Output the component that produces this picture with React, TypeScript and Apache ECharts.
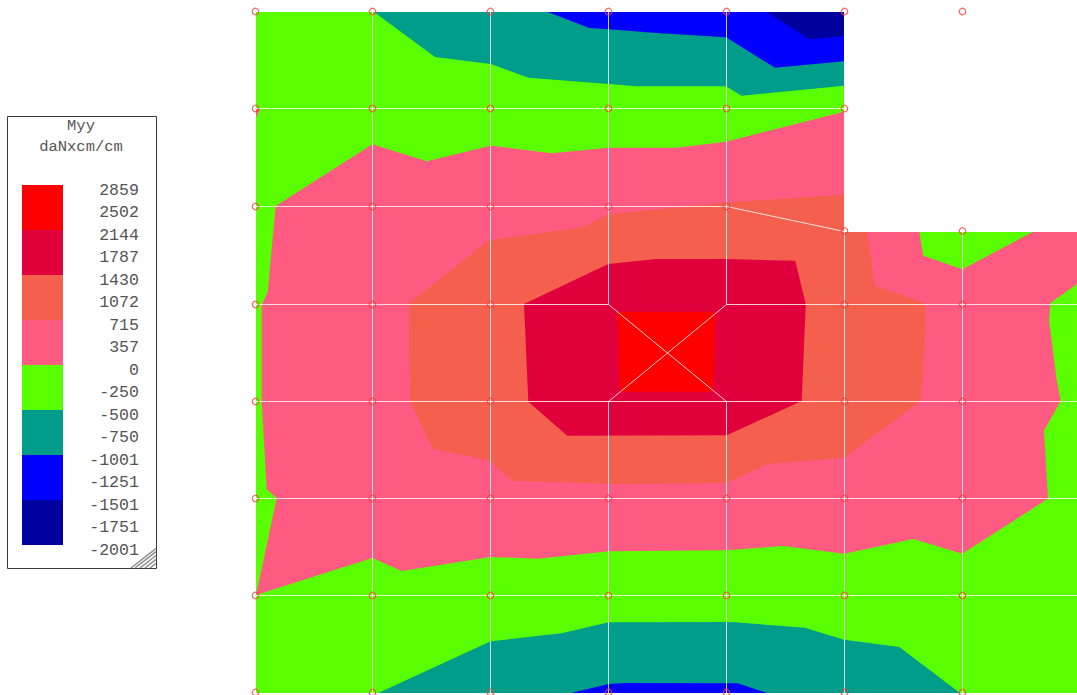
import React, { useEffect, useRef } from "react";
import * as echarts from "echarts";

type P = [number, number];

// contour bands, painted from the lowest layer upward
const greenBase: P[] = [[256,12],[844,12],[844,232],[1077,232],[1077,693],[256,693]];
const tealTop: P[] = [[374,12],[435,57],[490.7,64],[528.3,77.7],[608.7,84],[636.7,86.3],[726,86.3],[741.7,95.7],[844,85.7],[844,12]];
const blueTop: P[] = [[547.7,12],[589.3,28],[608.7,29.3],[660,33.3],[726,37.3],[775,67.7],[844,61.3],[844,12]];
const navyTop: P[] = [[766.7,12],[809.3,39.3],[844,36],[844,12]];
const tealBottom: P[] = [[378.3,693],[490.7,641.3],[561.7,633.3],[608.7,622.3],[726,622],[735,622.3],[805,627.7],[844,639.7],[899.3,647],[960,693]];
const blueBottom: P[] = [[571,693],[608.7,684],[625,683],[737.3,683.3],[767.3,693]];
const pinkSpeck: P[] = [[256,109],[260,109],[256,118]];
const pinkBand: P[] = [[275.7,206],[372.3,144.3],[426.7,161.3],[490.7,145.7],[551.7,153.3],[608.7,147.7],[676.7,147.7],[726,141.7],[844,111.7],[844,232],[919.3,232],[923.3,255.7],[962.3,269.3],[1032.7,232],[1077,232],[1077,284],[1050.7,302.7],[1049,320],[1056.7,380],[1060.7,401],[1044,430.7],[1048,498.7],[962.3,553.7],[913.3,539],[844,553.7],[783.3,546],[726,550.3],[608.7,551.3],[538.3,558.7],[490.7,557],[401.7,571],[372.3,558],[256,595],[276.7,498.3],[266.7,489.3],[261.7,403.3],[261.7,305],[267.7,291.7]];
const orangeBand: P[] = [[409,303.3],[489.3,240],[582.7,227.3],[608.3,214.3],[726,202.7],[844,194.7],[844,232],[867.3,232],[875,285.7],[925,303.3],[925.7,320],[922.3,380],[920.7,401],[844,457.7],[769,463.7],[726,483],[616.7,484],[512.3,480.7],[490,460.7],[432.7,448.7],[410,401]];
const crimsonBand: P[] = [[524,304],[608.3,264],[656.7,259],[726,259],[795.3,260.7],[805.7,304],[801.7,401],[726.7,435.3],[567.3,435.7],[528.3,401.7]];
const redBand: P[] = [[617.3,311.7],[715.7,311.7],[713.3,391.7],[620,391.7]];

const colors = {
  red: "#ff0000", crimson: "#e0003c", orange: "#f5604e", pink: "#ff5a82",
  green: "#59ff00", teal: "#009e8a", blue: "#0000ff", navy: "#00009e",
};

const bands: { pts: P[]; fill: string }[] = [
  { pts: greenBase, fill: colors.green },
  { pts: tealTop, fill: colors.teal },
  { pts: blueTop, fill: colors.blue },
  { pts: navyTop, fill: colors.navy },
  { pts: tealBottom, fill: colors.teal },
  { pts: blueBottom, fill: colors.blue },
  { pts: pinkSpeck, fill: colors.pink },
  { pts: pinkBand, fill: colors.pink },
  { pts: orangeBand, fill: colors.orange },
  { pts: crimsonBand, fill: colors.crimson },
  { pts: redBand, fill: colors.red },
];

// mesh
const xs = [255.5, 372.5, 490.5, 608.5, 726.5, 844.5, 962.5];
const ys = [11.5, 108.5, 206.5, 304.5, 401.5, 498.5, 595.5, 692.5];
const meshSegments: [P, P][] = [
  [[256, ys[1]], [844, ys[1]]],
  [[256, ys[2]], [xs[4], ys[2]]],
  [[xs[4], ys[2]], [xs[5], 231.5]],
  [[256, ys[3]], [xs[3], ys[3]]],
  [[xs[4], ys[3]], [1077, ys[3]]],
  [[256, ys[4]], [1077, ys[4]]],
  [[256, ys[5]], [1077, ys[5]]],
  [[256, ys[6]], [1077, ys[6]]],
  [[xs[1], 12], [xs[1], 693]],
  [[xs[2], 12], [xs[2], 693]],
  [[xs[3], 12], [xs[3], ys[3]]],
  [[xs[3], ys[4]], [xs[3], 693]],
  [[xs[4], 12], [xs[4], ys[3]]],
  [[xs[4], ys[4]], [xs[4], 693]],
  [[xs[5], 231.5], [xs[5], 693]],
  [[xs[6], 231.5], [xs[6], 693]],
  [[xs[3], ys[3]], [xs[4], ys[4]]],
  [[xs[4], ys[3]], [xs[3], ys[4]]],
];

const nodes: P[] = [
  ...xs.map((x): P => [x, ys[0]]),
  ...xs.slice(0, 6).map((x): P => [x, ys[1]]),
  ...xs.slice(0, 5).map((x): P => [x, ys[2]]),
  [xs[5], 231], [xs[6], 231],
  ...[0, 1, 2, 5, 6].map((i): P => [xs[i], ys[3]]),
  ...[0, 1, 2, 5, 6].map((i): P => [xs[i], ys[4]]),
  ...xs.map((x): P => [x, ys[5]]),
  ...xs.map((x): P => [x, ys[6]]),
  ...xs.map((x): P => [x, ys[7]]),
];

// legend
const legendTitle = ["Myy", "daNxcm/cm"];
const legendTicks = ["2859","2502","2144","1787","1430","1072","715","357","0","-250","-500","-750","-1001","-1251","-1501","-1751","-2001"];
const legendColors = [colors.red, colors.crimson, colors.orange, colors.pink, colors.green, colors.teal, colors.blue, colors.navy];

const MONO = "'Liberation Mono', monospace";

export default function App() {
  const ref = useRef<HTMLDivElement>(null);
  useEffect(() => {
    if (!ref.current) return;
    const chart = echarts.init(ref.current, undefined, { renderer: "svg" });
    const graphics: any[] = [
      { type: "rect", shape: { x: 7.5, y: 116.5, width: 149, height: 452 }, style: { fill: "#fff", stroke: "#3a3a3a", lineWidth: 1 } },
    ];
    legendTitle.forEach((t, i) => {
      graphics.push({ type: "text", x: 81, y: 126 + i * 21, style: { text: t, fontFamily: MONO, fontSize: 15.5, fill: "#555", align: "center", verticalAlign: "middle" } });
    });
    legendColors.forEach((c, i) => {
      graphics.push({ type: "rect", shape: { x: 22, y: 185 + i * 45, width: 41, height: 45 }, style: { fill: c } });
    });
    legendTicks.forEach((t, i) => {
      graphics.push({ type: "text", x: 139, y: 190 + i * 22.5, style: { text: t, fontFamily: MONO, fontSize: 16.6, fill: "#555", align: "right", verticalAlign: "middle" } });
    });
    [6, 11, 16, 21, 25].forEach((d) => {
      graphics.push({ type: "line", shape: { x1: 156 - d, y1: 568, x2: 156, y2: 568 - d * 0.78 }, style: { stroke: "#888", lineWidth: 1.4 } });
    });
    chart.setOption({
      animation: false,
      backgroundColor: "#fff",
      grid: { left: 0, right: 0, top: 0, bottom: 0 },
      xAxis: { type: "value", min: 0, max: 1077, show: false },
      yAxis: { type: "value", min: 0, max: 695, inverse: true, show: false },
      graphic: { elements: graphics },
      series: [
        {
          type: "custom",
          silent: true,
          clip: false,
          coordinateSystem: "cartesian2d",
          data: bands.map((_, i) => [i]),
          encode: { x: 0 },
          renderItem: (params: any, api: any) => {
            const b = bands[params.dataIndex];
            return { type: "polygon", shape: { points: b.pts.map((p) => api.coord(p)) }, style: { fill: b.fill } };
          },
          z: 1,
        },
        {
          type: "custom",
          silent: true,
          clip: false,
          coordinateSystem: "cartesian2d",
          data: meshSegments.map((_, i) => [i]),
          encode: { x: 0 },
          renderItem: (params: any, api: any) => {
            const [a, b] = meshSegments[params.dataIndex];
            const p = api.coord(a), q = api.coord(b);
            return { type: "line", shape: { x1: p[0], y1: p[1], x2: q[0], y2: q[1] }, style: { stroke: "rgba(255,255,255,0.8)", lineWidth: 1 } };
          },
          z: 2,
        },
        {
          type: "scatter",
          silent: true,
          data: nodes,
          symbol: "circle",
          symbolSize: 6.5,
          itemStyle: { color: "rgba(0,0,0,0)", borderColor: "#ff3b3b", borderWidth: 1.2 },
          z: 3,
        },
      ],
    });
    return () => chart.dispose();
  }, []);
  return <div ref={ref} style={{ position: "fixed", left: 0, top: 0, width: 1077, height: 695 }} />;
}
